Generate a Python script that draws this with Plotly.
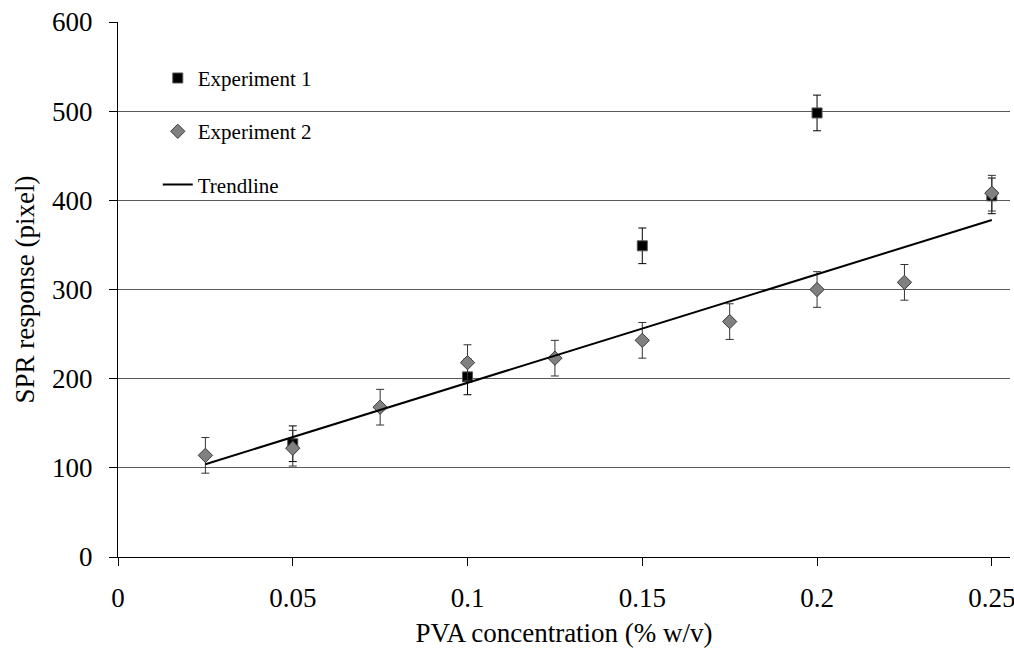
import plotly.graph_objects as go

# Data
exp1_x = [0.05, 0.10, 0.15, 0.20, 0.25]
exp1_y = [127, 202, 349, 498, 405]
exp1_err = [20, 20, 20, 20, 20]

exp2_x = [0.025, 0.05, 0.075, 0.10, 0.125, 0.15, 0.175, 0.20, 0.225, 0.25]
exp2_y = [114, 122, 168, 218, 223, 243, 264, 300, 308, 408]
exp2_err = [20, 20, 20, 20, 20, 20, 20, 20, 20, 20]

trend_x = [0.025, 0.25]
trend_y = [104, 378]

x_ticks = [0, 0.05, 0.10, 0.15, 0.20, 0.25]
x_tick_text = ["0", "0.05", "0.1", "0.15", "0.2", "0.25"]
y_ticks = [0, 100, 200, 300, 400, 500, 600]

FONT = "Liberation Serif"

fig = go.Figure()

fig.add_trace(go.Scatter(
    x=exp1_x, y=exp1_y, mode="markers", name="Experiment 1",
    legendgroup="a",
    marker=dict(symbol="square", size=10, color="black",
                line=dict(color="#555555", width=1)),
    error_y=dict(type="data", array=exp1_err, visible=True,
                 color="black", thickness=1, width=4),
))

fig.add_trace(go.Scatter(
    x=exp2_x, y=exp2_y, mode="markers", name="Experiment 2",
    legendgroup="b",
    marker=dict(symbol="diamond", size=11, color="#808080",
                line=dict(color="#3a3a3a", width=1)),
    error_y=dict(type="data", array=exp2_err, visible=True,
                 color="#333333", thickness=1, width=4),
))

fig.add_trace(go.Scatter(
    x=trend_x, y=trend_y, mode="lines", name="Trendline",
    legendgroup="c",
    line=dict(color="black", width=2),
))

fig.update_layout(
    width=1014, height=653,
    margin=dict(l=118, r=4, t=22, b=96, autoexpand=False),
    paper_bgcolor="white", plot_bgcolor="white",
    font=dict(family=FONT, color="black", size=27),
    legend=dict(
        x=0.0446, y=0.933, xanchor="left", yanchor="top",
        font=dict(family=FONT, size=21, color="black"),
        bgcolor="rgba(0,0,0,0)", tracegroupgap=23,
        itemwidth=30,
    ),
    xaxis=dict(
        range=[0, 0.2552],
        tickvals=x_ticks, ticktext=x_tick_text,
        showgrid=False, zeroline=False,
        showline=True, linecolor="black", linewidth=1,
        ticks="outside", ticklen=8, tickcolor="black",
        tickfont=dict(family=FONT, size=27),
        ticklabelstandoff=9,
        ticklabeloverflow="allow",
        automargin=False,
        title=dict(text="PVA concentration (% w/v)",
                   font=dict(family=FONT, size=27), standoff=10),
    ),
    yaxis=dict(
        range=[0, 600],
        tickvals=y_ticks,
        showgrid=True, gridcolor="#5a5a5a", gridwidth=1,
        zeroline=False,
        showline=True, linecolor="black", linewidth=1,
        ticks="outside", ticklen=8, tickcolor="black",
        tickfont=dict(family=FONT, size=27),
        ticklabelstandoff=11,
        automargin=False,
        title=dict(text="SPR response (pixel)",
                   font=dict(family=FONT, size=27), standoff=9),
    ),
)

fig.write_html("out.html")
